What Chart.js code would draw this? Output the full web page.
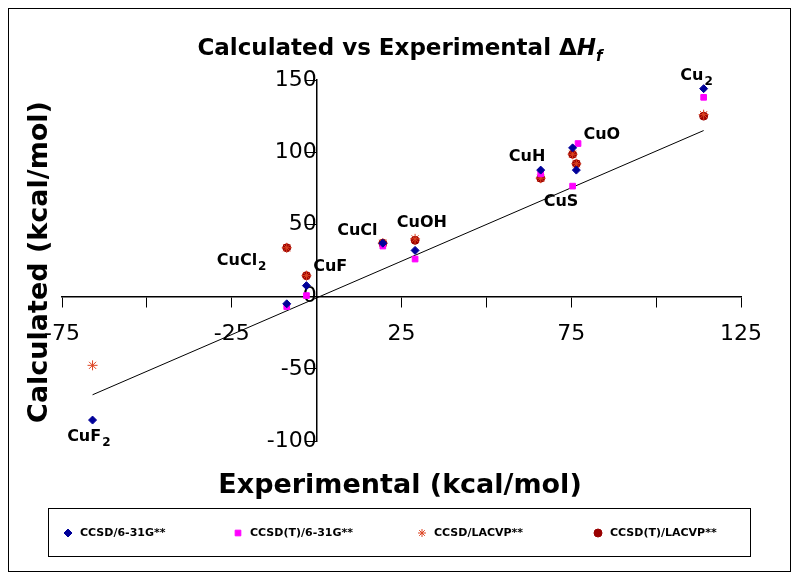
<!DOCTYPE html><html><head><script src="https://cdn.jsdelivr.net/npm/chart.js@4.4.0/dist/chart.umd.min.js"></script>
<style>body{margin:0;background:#fff}</style></head><body><canvas id="c" width="800" height="581"></canvas>
<script>
const compounds=['CuF2','CuCl2','CuF','CuCl','CuOH','CuH','CuO','CuS','Cu2'];
const experimental=[-66,-8.8,-3,19.5,29,66,75.4,76.5,114];
const ccsd631=[-85.5,-5,7.6,37,32,87.6,103,87.6,144];
const ccsdt631=[null,-7,0.7,35,26,85,106,76.5,138];
const ccsdLac=[-47.6,33.8,14.5,37,40,82,98.6,92,126];
const ccsdtLac=[null,33.8,14.5,37,39,82,98.6,92,125];
const pinkX=[null,-8.8,-3,19.5,29,66,77,75.4,114];
const fitLine=[[-66,-68],[114,115]];
const labels=[['CuF',2,-67,-100],['CuCl',2,-22,22],['CuF',null,4,18],['CuCl',null,12,43],['CuOH',null,31,48],['CuH',null,62,94],['CuO',null,84,109],['CuS',null,72,63],['Cu',2,112,150]];
const pts=(ys,xs)=>ys.map((y,i)=>y==null?null:{x:(xs||experimental)[i],y}).filter(p=>p);
const deco={id:'deco',afterDraw(ch){const c=ch.ctx,xs=ch.scales.x,ys=ch.scales.y;c.save();
c.strokeStyle='#000';c.lineWidth=1;c.strokeRect(8.5,8.5,782,563);
c.fillStyle='#000';c.font='bold 23px "DejaVu Sans"';c.textAlign='left';c.textBaseline='alphabetic';
let t='Calculated vs Experimental \u0394';let w=c.measureText(t).width;c.font='bold italic 23px "DejaVu Sans"';let w2=c.measureText('H').width;c.font='bold italic 15px "DejaVu Sans"';let w3=c.measureText('f').width;
let x0=400-(w+w2+w3)/2;c.font='bold 23px "DejaVu Sans"';c.fillText(t,x0,55);c.font='bold italic 23px "DejaVu Sans"';c.fillText('H',x0+w,55);c.font='bold italic 15px "DejaVu Sans"';c.fillText('f',x0+w+w2,61);
c.font='bold 27px "DejaVu Sans"';c.textAlign='center';c.fillText('Experimental (kcal/mol)',400,493);
c.save();c.translate(47,262);c.rotate(-Math.PI/2);c.fillText('Calculated (kcal/mol)',0,0);c.restore();
c.font='bold 16px "DejaVu Sans"';
labels.forEach(([s,sub,x,y])=>{let px=xs.getPixelForValue(x),py=ys.getPixelForValue(y);c.textAlign='left';let sw=c.measureText(s).width;let tw=sw+(sub?10:0);let lx=px-tw/2;c.fillText(s,lx,py);if(sub){c.font='bold 12px "DejaVu Sans"';c.fillText(String(sub),lx+sw+1,py+5);c.font='bold 16px "DejaVu Sans"';}});
c.strokeRect(48.5,508.5,702,48);
c.font='bold 11px "DejaVu Sans"';c.textAlign='left';c.textBaseline='middle';
const leg=[['CCSD/6-31G**',80],['CCSD(T)/6-31G**',250],['CCSD/LACVP**',434],['CCSD(T)/LACVP**',610]];
ch.data.datasets.slice(0,4).forEach((d,i)=>{const [txt,lx]=leg[i];const y=533;c.fillStyle=d.pointBackgroundColor;c.strokeStyle=d.pointBorderColor;
Chart.helpers.drawPoint(c,{pointStyle:d.pointStyle,radius:4,rotation:0,borderWidth:1},lx-12,y);c.fillStyle='#000';c.fillText(txt,lx,y);});
c.restore();}};
const ds=(label,data,style,col,bcol,r)=>({label,data,pointStyle:style,pointBackgroundColor:col,pointBorderColor:bcol||col,pointRadius:r||4,pointBorderWidth:1,showLine:false,backgroundColor:col,borderColor:bcol||col});
new Chart(document.getElementById('c'),{type:'scatter',data:{datasets:[
ds('CCSD/6-31G**',pts(ccsd631),'rectRot','#000099'),
ds('CCSD(T)/6-31G**',pts(ccsdt631,pinkX),'rect','#ff00ff'),
ds('CCSD/LACVP**',pts(ccsdLac),'star','#ff6633','#dd4422',5),
ds('CCSD(T)/LACVP**',pts(ccsdtLac),'circle','#990000'),
{label:'fit',data:fitLine.map(([x,y])=>({x,y})),showLine:true,borderColor:'#000',borderWidth:1,pointRadius:0}
]},options:{responsive:false,animation:false,devicePixelRatio:1,
layout:{padding:{left:62,right:59,top:80,bottom:140}},
plugins:{legend:{display:false},tooltip:{enabled:false}},
scales:{x:{type:'linear',min:-75,max:125,position:{y:0},afterBuildTicks(a){a.ticks=[-75,-50,-25,0,25,50,75,100,125].map(v=>({value:v}))},
ticks:{font:{size:22,family:'"DejaVu Sans"'},color:'#000',padding:14,callback:v=>[-75,-25,25,75,125].includes(v)?v:''},
grid:{display:true,drawOnChartArea:false,tickLength:10,color:'#000'},border:{color:'#000',width:1.5}},
y:{type:'linear',min:-100,max:150,position:{x:0},ticks:{stepSize:50,font:{size:22,family:'"DejaVu Sans"'},color:'#000'},
grid:{display:true,drawOnChartArea:false,tickLength:10,color:'#000'},border:{color:'#000',width:1.5}}}},plugins:[deco]});
</script></body></html>
